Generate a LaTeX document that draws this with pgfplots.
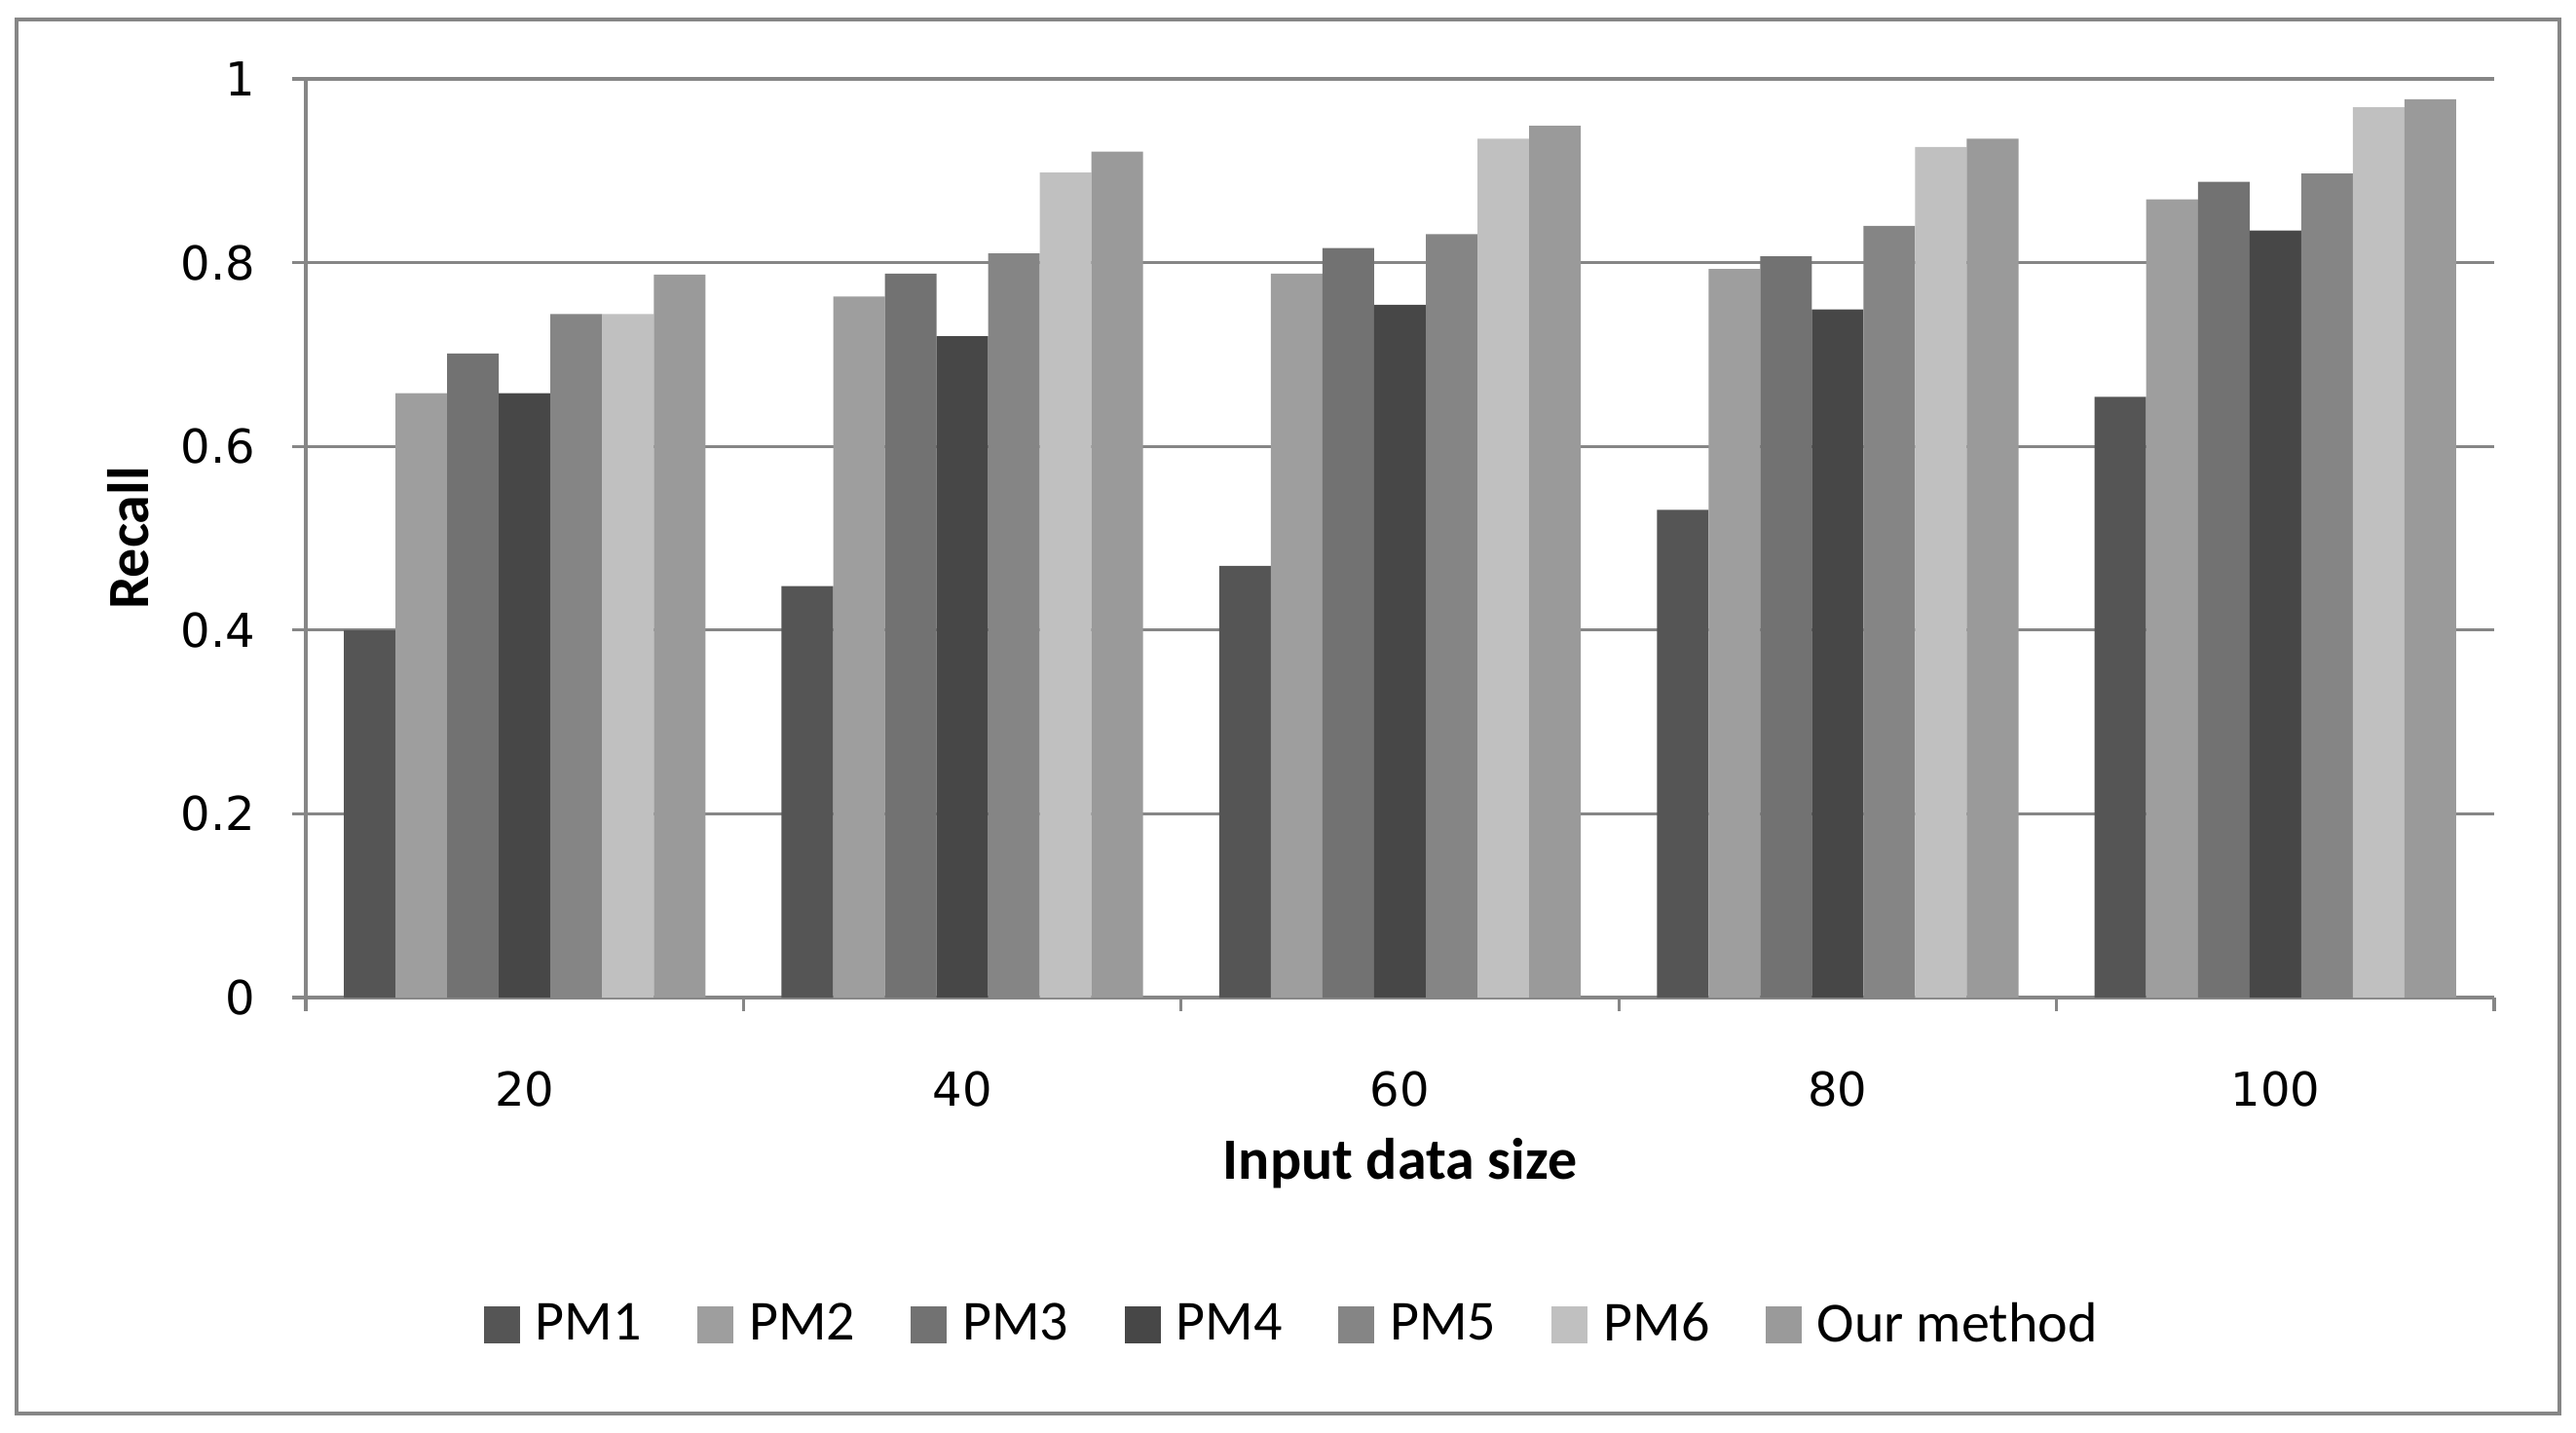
\documentclass[border=0pt]{standalone}
\usepackage{pgfplots}
\pgfplotsset{compat=1.18}
\usepackage{fontspec}
\setmainfont{Carlito}
\newfontfamily\tickfont{DejaVu Sans}
\definecolor{cA}{HTML}{555555}
\definecolor{cB}{HTML}{9E9E9E}
\definecolor{cC}{HTML}{727272}
\definecolor{cD}{HTML}{474747}
\definecolor{cE}{HTML}{858585}
\definecolor{cF}{HTML}{C0C0C0}
\definecolor{cG}{HTML}{9A9A9A}
\definecolor{gridc}{HTML}{868686}
\pgfplotsset{
  mybar/.style n args={2}{fill=#1, draw=none, bar shift=#2,
    legend image code/.code={\fill[##1] (0pt,-4.65pt) rectangle (9.3pt,4.65pt);}},
}
\begin{document}
\begin{tikzpicture}
\useasboundingbox (-78.5pt,-111.5pt) rectangle (582.75pt,256pt);
\draw[gridc, line width=0.8pt] (-74.25pt,-106.75pt) rectangle (578.5pt,251pt);
\begin{axis}[
  scale only axis,
  width=561.75pt, height=235.75pt,
  ybar, bar width=0.118,
  xmin=-0.5, xmax=4.5, ymin=0, ymax=1,
  xtick={0,1,2,3,4},
  xticklabels={20,40,60,80,100},
  ytick={0,0.2,0.4,0.6,0.8,1},
  yticklabels={0,0.2,0.4,0.6,0.8,1},
  axis x line*=bottom, axis y line*=left,
  axis line style={gridc, line width=0.8pt, -},
  ymajorgrids, grid style={gridc, line width=0.8pt},
  x tick style={draw=none},
  y tick style={gridc, line width=0.8pt},
  ytick align=outside, major tick length=3.4pt,
  extra x ticks={-0.5,0.5,1.5,2.5,3.5,4.5},
  extra x tick labels={},
  extra x tick style={grid=none, xtick align=outside, x tick style={draw=gridc, line width=0.8pt}, major tick length=3.4pt},
  /pgf/number format/assume math mode=true,
  xticklabel style={font=\tickfont\fontsize{12}{14}\selectfont, yshift=-12pt},
  yticklabel style={font=\tickfont\fontsize{12}{14}\selectfont, xshift=-6pt},
  xlabel={\textbf{Input data size}},
  ylabel={\textbf{Recall}},
  xlabel style={font=\fontsize{15}{18}\selectfont, at={(axis description cs:0.5,0)}, anchor=center, yshift=-42.6pt},
  ylabel style={font=\fontsize{15}{18}\selectfont, at={(axis description cs:0,0.5)}, anchor=center, yshift=45.5pt},
  legend columns=7,
  legend style={at={(axis description cs:0.4518,-0.3563)}, anchor=center, draw=none,
    font=\fontsize{14.5}{17}\selectfont,
    /tikz/every even column/.append style={column sep=12.3pt},
    /tikz/every odd column/.append style={column sep=2pt}},
]
\addplot[mybar={cA}{-0.354}] coordinates {(0,0.400) (1,0.448) (2,0.470) (3,0.531) (4,0.654)};
\addplot[mybar={cB}{-0.236}] coordinates {(0,0.658) (1,0.763) (2,0.788) (3,0.793) (4,0.869)};
\addplot[mybar={cC}{-0.118}] coordinates {(0,0.701) (1,0.788) (2,0.816) (3,0.807) (4,0.888)};
\addplot[mybar={cD}{0}] coordinates {(0,0.658) (1,0.720) (2,0.754) (3,0.749) (4,0.835)};
\addplot[mybar={cE}{0.118}] coordinates {(0,0.744) (1,0.810) (2,0.831) (3,0.840) (4,0.897)};
\addplot[mybar={cF}{0.236}] coordinates {(0,0.744) (1,0.898) (2,0.935) (3,0.926) (4,0.969)};
\addplot[mybar={cG}{0.354}] coordinates {(0,0.787) (1,0.921) (2,0.949) (3,0.935) (4,0.978)};
\legend{PM1,PM2,PM3,PM4,PM5,PM6,Our method}
\end{axis}
\end{tikzpicture}
\end{document}
